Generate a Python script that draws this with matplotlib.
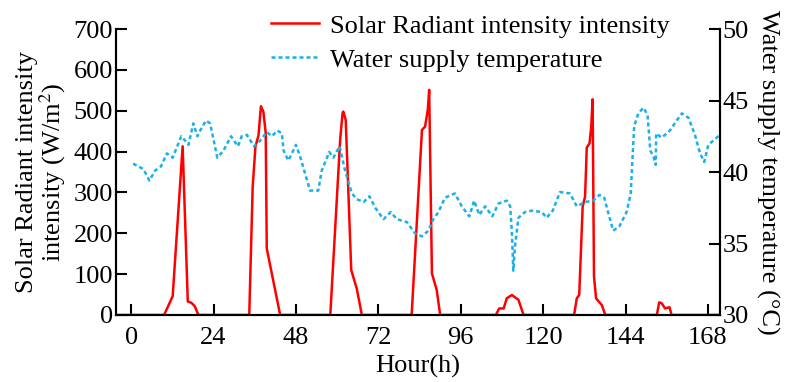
import matplotlib.pyplot as plt

plt.rcParams['font.family'] = ['Liberation Serif', 'DejaVu Serif']
plt.rcParams['mathtext.fontset'] = 'stix'

# Radiación solar (W/m2)
solar_h = [-5, 9.6, 12.1, 15.0, 16.5, 17.5, 18.5, 19.6,
           34.4, 35.4, 36.2, 37.1, 37.8, 38.5, 39.2, 39.5, 43.4,
           58.0, 60.9, 61.6, 61.8, 62.5, 64.1, 65.7, 67.2,
           81.7, 84.7, 85.6, 86.4, 86.8, 87.6, 89.0, 90.0,
           106.2, 107.2, 108.5, 109.4, 110.9, 112.8, 114.3,
           129.0, 129.8, 130.5, 131.5, 132.2, 132.7, 133.5, 134.0, 134.4, 134.8, 135.4, 137.1, 138.1,
           153.1, 153.8, 154.5, 155.5, 156.8, 157.4, 173]
solar_w = [0, 0, 46, 413, 33, 30, 22, 0,
           0, 314, 412, 440, 511, 498, 445, 163, 0,
           0, 432, 495, 498, 477, 110, 65, 0,
           0, 453, 461, 502, 551, 102, 61, 0,
           0, 16, 16, 41, 49, 37, 0,
           0, 41, 49, 265, 290, 410, 420, 461, 528, 94, 41, 24, 0,
           0, 31, 29, 16, 19, 0, 0]

# Temperatura del agua de suministro (°C)
temp_h = [0.6, 1.2, 3.6, 5.3, 7.0, 8.7, 10.4, 12.1, 14.6, 15.7, 16.7, 18.1, 19.3, 20.1,
          21.8, 23.0, 25.1, 26.9, 29.1, 31.1, 32.2, 33.7, 35.8, 37.6, 39.5, 41.0, 42.6,
          43.9, 44.4, 45.8, 46.8, 48.0, 49.2, 52.1, 54.5, 55.5, 57.7, 58.9, 60.7, 62.3,
          64.3, 65.7, 67.7, 69.4, 71.1, 73.5, 75.6, 77.4, 80.3, 82.7, 84.7, 86.6, 88.0,
          89.5, 91.4, 94.3, 96.3, 98.5, 99.9, 101.4, 103.1, 105.2, 107.0, 109.4, 110.4,
          110.9, 111.3, 111.8, 112.8, 114.7, 116.7, 119.6, 121.0, 122.8, 124.9, 127.8,
          129.8, 132.2, 134.6, 136.4, 137.8, 139.0, 140.4, 142.2, 144.3, 145.5, 146.5,
          147.7, 149.2, 150.4, 151.2, 152.1, 152.8, 152.9, 154.5, 156.9, 158.9, 160.4,
          162.3, 164.2, 165.7, 166.9, 168.1, 171.0, 172]
temp_c = [40.6, 40.5, 40.2, 39.4, 40.1, 40.4, 41.3, 41.0, 42.5, 42.2, 41.9, 43.4, 42.5, 42.9,
          43.6, 43.4, 41.0, 41.5, 42.5, 41.8, 42.5, 42.6, 41.8, 42.2, 42.8, 42.5, 42.9,
          42.7, 41.5, 40.8, 41.3, 41.9, 41.1, 38.7, 38.7, 40.1, 41.4, 41.0, 41.8, 40.1,
          38.5, 38.1, 37.9, 38.3, 37.5, 36.7, 37.2, 36.7, 36.5, 35.7, 35.5, 35.9, 36.7,
          37.2, 38.2, 38.5, 37.6, 36.9, 38.0, 37.0, 37.6, 36.9, 37.8, 38.0, 37.6,
          35.7, 33.1, 34.8, 36.8, 37.2, 37.3, 37.2, 36.8, 37.3, 38.6, 38.5,
          37.6, 37.9, 38.0, 38.4, 38.2, 37.1, 35.9, 36.2, 37.2, 38.5, 43.2,
          44.1, 44.5, 44.0, 41.5, 41.1, 40.5, 42.7, 42.4, 42.9, 43.6, 44.1,
          43.8, 42.6, 41.3, 40.7, 41.9, 42.5, 42.6]

x_ticks = list(range(0, 169, 24))

fig = plt.figure(figsize=(7.85, 3.82), dpi=100)
ax = fig.add_axes([0.1478, 0.1754, 0.7694, 0.7486])
ax2 = ax.twinx()

l1, = ax.plot(solar_h, solar_w, color='#FF0000', lw=1.8, label='Solar Radiant intensity intensity')
l2, = ax2.plot(temp_h, temp_c, color='#1AB0E8', lw=1.8, ls=(0, (1.6, 1.2)),
               label='Water supply temperature')

ax.set_xlim(-4.4, 171.5)
ax.set_ylim(0, 700)
ax2.set_ylim(30, 50)
ax.set_xticks(x_ticks)
ax.set_yticks(range(0, 701, 100))
ax2.set_yticks(range(30, 51, 5))

fs = 19
for a in (ax, ax2):
    a.tick_params(direction='in', length=8, width=1.5, labelsize=fs, pad=2)
    a.spines['top'].set_visible(False)
    for s in ('left', 'bottom', 'right'):
        a.spines[s].set_linewidth(1.5)
ax.tick_params(axis='x', pad=9)

ax.set_xlabel('Hour(h)', fontsize=fs, labelpad=4)
ax.set_ylabel('Solar Radiant intensity\nintensity (W/m$^2$)', fontsize=fs, labelpad=4, linespacing=1.0)
ax2.set_ylabel('Water supply temperature (°C)', fontsize=fs, rotation=270, labelpad=22)

fig.legend(handles=[l1, l2], loc='upper left', bbox_to_anchor=(0.315, 1.025), frameon=False,
           fontsize=fs, handlelength=1.8, handletextpad=0.42, labelspacing=0.4)

fig.savefig('out.png', dpi=100)
